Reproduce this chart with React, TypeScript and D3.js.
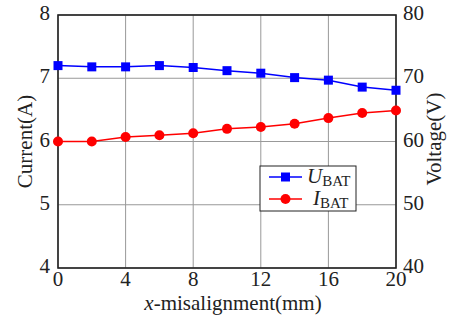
import React from "react";
import * as d3 from "d3";

const xValues = [0, 2, 4, 6, 8, 10, 12, 14, 16, 18, 20];
const uBat = [72.0, 71.8, 71.8, 72.0, 71.7, 71.2, 70.8, 70.1, 69.7, 68.6, 68.1];
const iBat = [6.0, 6.0, 6.07, 6.1, 6.13, 6.2, 6.23, 6.28, 6.37, 6.45, 6.49];
const xTicks = [0, 4, 8, 12, 16, 20];
const leftTicks = [4, 5, 6, 7, 8];
const rightTicks = [40, 50, 60, 70, 80];

export default function App() {
  const W = 449, H = 320;
  const L = 58, R = 396, T = 15, B = 268;
  const x = d3.scaleLinear().domain([0, 20]).range([L, R]);
  const yL = d3.scaleLinear().domain([4, 8]).range([B, T]);
  const yR = d3.scaleLinear().domain([40, 80]).range([B, T]);
  const font = "'Liberation Serif', 'Times New Roman', serif";
  const fs = 21;
  const uLine = d3.line<number>().x((_, i) => x(xValues[i])).y((d) => yR(d))(uBat) || "";
  const iLine = d3.line<number>().x((_, i) => x(xValues[i])).y((d) => yL(d))(iBat) || "";
  const blue = "#0000ff", red = "#ff0000";
  const ink = "#222";
  return (
    <svg width={W} height={H} style={{ position: "absolute", left: 0, top: 0 }} fontFamily={font}>
      <rect x={0} y={0} width={W} height={H} fill="#fff" />
      {xTicks.map((t) => (
        <line key={"gx" + t} x1={x(t)} x2={x(t)} y1={T} y2={B} stroke="#999" strokeWidth={1} />
      ))}
      {leftTicks.map((t) => (
        <line key={"gy" + t} x1={L} x2={R} y1={yL(t)} y2={yL(t)} stroke="#999" strokeWidth={1} />
      ))}
      <rect x={L} y={T} width={R - L} height={B - T} fill="none" stroke={ink} strokeWidth={1.6} />
      {leftTicks.map((t) => (
        <text key={"lt" + t} x={L - 8} y={yL(t) + 5} textAnchor="end" fontSize={fs} fill={ink}>{t}</text>
      ))}
      {rightTicks.map((t) => (
        <text key={"rt" + t} x={R + 7} y={yR(t) + 5} textAnchor="start" fontSize={fs} fill={ink}>{t}</text>
      ))}
      {xTicks.map((t) => (
        <text key={"xt" + t} x={x(t)} y={B + 18} textAnchor="middle" fontSize={fs} fill={ink}>{t}</text>
      ))}
      <text x={233} y={310} textAnchor="middle" fontSize={fs} fill={ink}>
        <tspan fontStyle="italic">x</tspan>-misalignment(mm)
      </text>
      <text transform={`translate(32,${(T + B) / 2}) rotate(-90)`} textAnchor="middle" fontSize={fs} fill={ink}>Current(A)</text>
      <text transform={`translate(441,139) rotate(-90)`} textAnchor="middle" fontSize={fs} fill={ink}>Voltage(V)</text>
      <path d={uLine} fill="none" stroke={blue} strokeWidth={1.5} />
      <path d={iLine} fill="none" stroke={red} strokeWidth={1.5} />
      {uBat.map((v, i) => (
        <rect key={"u" + i} x={x(xValues[i]) - 4.5} y={yR(v) - 4.5} width={9} height={9} fill={blue} />
      ))}
      {iBat.map((v, i) => (
        <circle key={"i" + i} cx={x(xValues[i])} cy={yL(v)} r={5} fill={red} />
      ))}
      <g>
        <rect x={260} y={166} width={96} height={45} fill="#fff" stroke={ink} strokeWidth={1} />
        <line x1={269} x2={302} y1={177} y2={177} stroke={blue} strokeWidth={1.5} />
        <rect x={281} y={172.5} width={9} height={9} fill={blue} />
        <text x={307} y={183} fontSize={fs} fill={ink}>
          <tspan fontStyle="italic">U</tspan><tspan fontSize={15} dy={3}>BAT</tspan>
        </text>
        <line x1={269} x2={302} y1={199} y2={199} stroke={red} strokeWidth={1.5} />
        <circle cx={285.5} cy={199} r={5} fill={red} />
        <text x={313} y={205} fontSize={fs} fill={ink}>
          <tspan fontStyle="italic">I</tspan><tspan fontSize={15} dy={3}>BAT</tspan>
        </text>
      </g>
    </svg>
  );
}
